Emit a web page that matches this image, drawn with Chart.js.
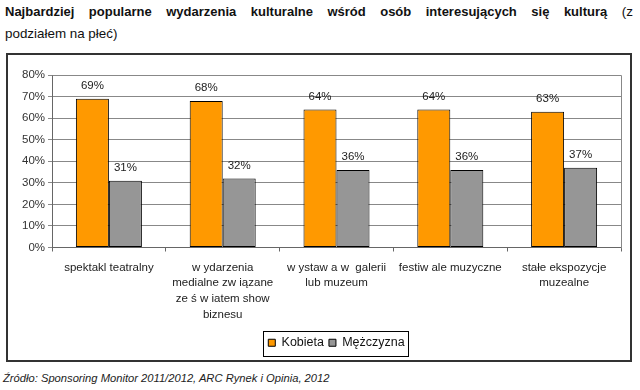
<!DOCTYPE html>
<html>
<head>
<meta charset="utf-8">
<script src="https://cdn.jsdelivr.net/npm/chart.js@4"></script>
<style>
  html, body { margin:0; padding:0; background:#fff; }
  body { width:640px; height:390px; position:relative; overflow:hidden; font-family:"Liberation Sans", Arial, sans-serif; color:#111; }
  #t1 { position:absolute; left:5px; top:3px; width:628px; font-size:13.4px; line-height:18px; text-align:justify; text-align-last:justify; }
  #t1 b { font-size:13px; }
  #t2 { position:absolute; left:5px; top:25px; font-size:13.4px; line-height:18px; }
  #box { position:absolute; left:6px; top:53px; width:622px; height:305px; border:2px solid #333; }
  #chart { position:absolute; left:8px; top:55px; }
  #src { position:absolute; left:3px; top:372px; font-size:11.2px; font-style:italic; color:#222; }
</style>
</head>
<body>
<div id="t1"><b>Najbardziej popularne wydarzenia kulturalne wśród osób interesujących się kulturą</b> (z</div>
<div id="t2">podziałem na płeć)</div>
<div id="box"></div>
<canvas id="chart" width="621" height="305"></canvas>
<div id="src">Źródło: Sponsoring Monitor 2011/2012, ARC Rynek i Opinia, 2012</div>
<script>
// Data
const categories = [
  ['spektakl teatralny'],
  ['w ydarzenia', 'medialne zw iązane', 'ze ś w iatem show', 'biznesu'],
  ['w ystaw a w  galerii', 'lub muzeum'],
  ['festiw ale muzyczne'],
  ['stałe ekspozycje', 'muzealne']
];
const kobieta = [69, 68, 64, 64, 63];
const mezczyzna = [31, 32, 36, 36, 37];
const yTicks = [0, 10, 20, 30, 40, 50, 60, 70, 80];

const FONT = '"Liberation Sans", Arial, sans-serif';

// value labels above bars
const valueLabels = {
  id: 'valueLabels',
  afterDatasetsDraw(chart){
    const ctx = chart.ctx;
    ctx.save();
    ctx.font = `11.5px ${FONT}`;
    ctx.fillStyle = '#222';
    ctx.textAlign = 'center';
    ctx.textBaseline = 'alphabetic';
    chart.data.datasets.forEach((ds, di) => {
      chart.getDatasetMeta(di).data.forEach((bar, i) => {
        ctx.fillText(ds.data[i] + '%', bar.x, bar.y - 10);
      });
    });
    ctx.restore();
  }
};

// gray plot-area frame (top/right)
const plotFrame = {
  id: 'plotFrame',
  beforeDatasetsDraw(chart){
    const a = chart.chartArea, ctx = chart.ctx;
    ctx.save();
    ctx.strokeStyle = '#888';
    ctx.lineWidth = 1;
    ctx.beginPath();
    ctx.moveTo(Math.round(a.left) + 0.5, Math.round(a.top) + 0.5);
    ctx.lineTo(Math.round(a.right) + 0.5, Math.round(a.top) + 0.5);
    ctx.lineTo(Math.round(a.right) + 0.5, Math.round(a.bottom) + 0.5);
    ctx.stroke();
    ctx.restore();
  }
};

// border round the legend
const legendBox = {
  id: 'legendBox',
  afterDraw(chart){
    const lg = chart.legend;
    if(!lg || !lg.legendHitBoxes || !lg.legendHitBoxes.length) return;
    const hb = lg.legendHitBoxes;
    const l = Math.min(...hb.map(h => h.left)) - 5;
    const r = Math.max(...hb.map(h => h.left + h.width)) + 4;
    const t = Math.min(...hb.map(h => h.top)) - 6;
    const b = Math.max(...hb.map(h => h.top + h.height)) + 6;
    const ctx = chart.ctx;
    ctx.save();
    ctx.strokeStyle = '#000';
    ctx.lineWidth = 1;
    ctx.strokeRect(Math.round(l) + 0.5, Math.round(t) + 0.5, Math.round(r - l), Math.round(b - t));
    ctx.restore();
  }
};

new Chart(document.getElementById('chart'), {
  type: 'bar',
  data: {
    labels: categories,
    datasets: [
      { label: 'Kobieta', data: kobieta, backgroundColor: '#FF9900', borderColor: '#000', borderWidth: 1, borderSkipped: false,
        categoryPercentage: 0.58, barPercentage: 1 },
      { label: 'Mężczyzna', data: mezczyzna, backgroundColor: '#969696', borderColor: '#000', borderWidth: 1, borderSkipped: false,
        categoryPercentage: 0.58, barPercentage: 1 }
    ]
  },
  options: {
    responsive: false,
    animation: false,
    devicePixelRatio: 1,
    layout: { padding: { left: 0, right: 8, top: 20, bottom: 1 } },
    plugins: {
      tooltip: { enabled: false },
      legend: {
        position: 'bottom',
        fullSize: false,
        labels: {
          font: { family: FONT, size: 12.5 },
          color: '#111',
          boxWidth: 7, boxHeight: 7,
          padding: 5
        }
      }
    },
    scales: {
      x: {
        grid: { display: true, drawOnChartArea: false, drawTicks: true, tickLength: 4, color: '#666', offset: true },
        border: { display: true, color: '#666' },
        ticks: { maxRotation: 0, autoSkip: false, padding: 8, color: '#222',
          font: { family: FONT, size: 11.5, lineHeight: 1.38 } },
        afterFit: (s) => { s.height = 84; }
      },
      y: {
        min: 0, max: 80,
        afterBuildTicks: (s) => { s.ticks = yTicks.map(v => ({ value: v })); },
        grid: { color: '#888', drawTicks: true, tickLength: 4 },
        border: { display: true, color: '#666' },
        ticks: { color: '#333', padding: 3, font: { family: FONT, size: 11.5 }, callback: (v) => v + '%' },
        afterFit: (s) => { s.width = 44; }
      }
    }
  },
  plugins: [valueLabels, plotFrame, legendBox]
});
</script>
</body>
</html>
